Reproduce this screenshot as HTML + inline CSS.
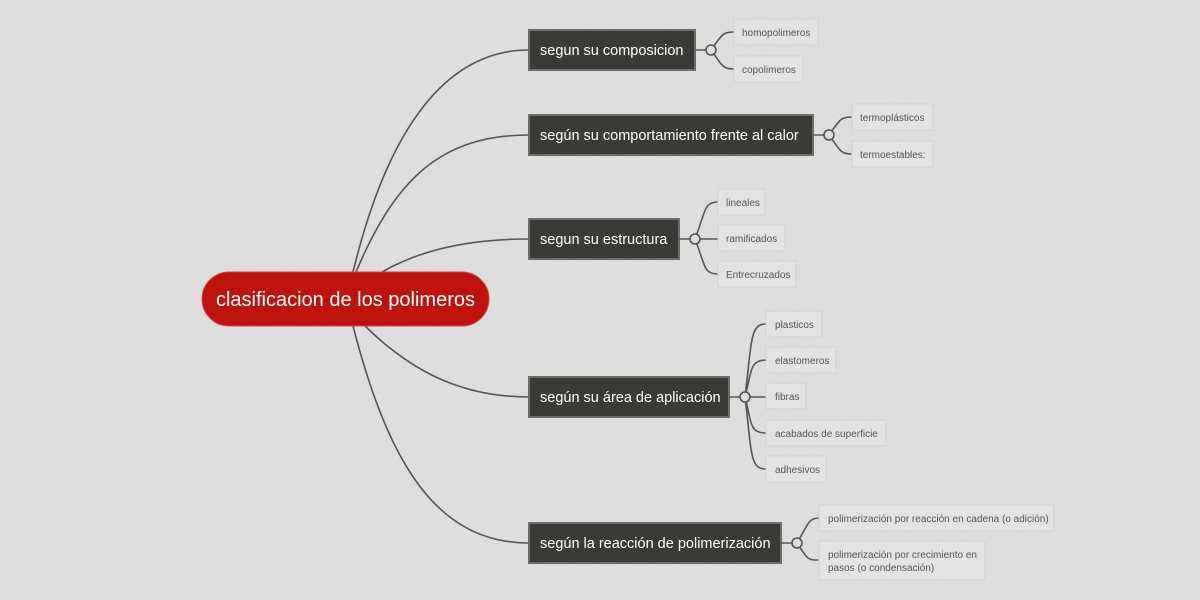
<!DOCTYPE html>
<html><head><meta charset="utf-8"><style>
html,body{margin:0;padding:0;width:1200px;height:600px;overflow:hidden;background:#dedede;}
svg{display:block;font-family:"Liberation Sans",sans-serif;}
.b{fill:#3a3a36;stroke:#6d6d69;stroke-width:2;}
.bt{fill:#fff;font-size:14.5px;}
.l{fill:#e3e3e3;stroke:#d3d3d3;stroke-width:1;}
.lt{fill:#555;font-size:10px;}
.c{fill:none;stroke:#555;stroke-width:1.6;}
.k{fill:#dedede;stroke:#555;stroke-width:1.6;}
</style></head><body>
<svg width="1200" height="600" viewBox="0 0 1200 600">
<defs><pattern id="p" width="8" height="8" patternUnits="userSpaceOnUse" patternTransform="rotate(-45)"><rect width="8" height="8" fill="#dedede"/><rect width="8" height="1" fill="#dbdbdb"/></pattern></defs>
<rect width="1200" height="600" fill="url(#p)"/>
<path class="c" d="M353,272 C385,140 440,50 529,50"/>
<path class="c" d="M356,272 C395,180 440,135 529,135"/>
<path class="c" d="M382,272 C420,250 470,239 529,239"/>
<path class="c" d="M365,326 C410,370 460,397 529,397"/>
<path class="c" d="M353,326 C390,470 440,543 529,543"/>
<rect x="202" y="272" width="287" height="54" rx="27" fill="#bd130b" stroke="#c84a45" stroke-width="1"/>
<text x="345.5" y="306" text-anchor="middle" fill="#fff" font-size="20">clasificacion de los polimeros</text>
<rect class="b" x="529" y="30" width="166" height="40"/><text class="bt" x="540" y="55">segun su composicion</text>
<rect class="b" x="529" y="115" width="284" height="40"/><text class="bt" x="540" y="140">según su comportamiento frente al calor</text>
<rect class="b" x="529" y="219" width="150" height="40"/><text class="bt" x="540" y="244">segun su estructura</text>
<rect class="b" x="529" y="377" width="200" height="40"/><text class="bt" x="540" y="402">según su área de aplicación</text>
<rect class="b" x="529" y="523" width="252" height="40"/><text class="bt" x="540" y="548">según la reacción de polimerización</text>
<path class="c" d="M695,50 H706 M711,50 C722,35 722,32 734,32 M711,50 C722,65 722,69 734,69"/>
<path class="c" d="M813,135 H824 M829,135 C840,120 840,117 852,117 M829,135 C840,150 840,154 852,154"/>
<path class="c" d="M679,239 H690 M695,239 C706,210 704,202 718,202 M695,239 H718 M695,239 C706,268 704,274 718,274"/>
<path class="c" d="M729,397 H740 M745,397 C752,340 750,324 766,324 M745,397 C752,370 750,360 766,360 M745,397 H766 M745,397 C752,425 750,433 766,433 M745,397 C752,455 750,469 766,469"/>
<path class="c" d="M781,543 H792 M797,543 C808,525 808,518 819,518 M797,543 C808,560 808,560 819,560"/>
<circle class="k" cx="711" cy="50" r="5"/>
<circle class="k" cx="829" cy="135" r="5"/>
<circle class="k" cx="695" cy="239" r="5"/>
<circle class="k" cx="745" cy="397" r="5"/>
<circle class="k" cx="797" cy="543" r="5"/>
<rect class="l" x="734" y="19" width="84" height="26"/><text class="lt" x="742" y="36">homopolimeros</text>
<rect class="l" x="734" y="56" width="69" height="26"/><text class="lt" x="742" y="73">copolimeros</text>
<rect class="l" x="852" y="104" width="81" height="26"/><text class="lt" x="860" y="121">termoplásticos</text>
<rect class="l" x="852" y="141" width="81" height="26"/><text class="lt" x="860" y="158">termoestables:</text>
<rect class="l" x="718" y="189" width="47" height="26"/><text class="lt" x="726" y="206">lineales</text>
<rect class="l" x="718" y="225" width="67" height="26"/><text class="lt" x="726" y="242">ramificados</text>
<rect class="l" x="718" y="261" width="78" height="26"/><text class="lt" x="726" y="278">Entrecruzados</text>
<rect class="l" x="766" y="311" width="56" height="26"/><text class="lt" x="775" y="328">plasticos</text>
<rect class="l" x="766" y="347" width="70" height="26"/><text class="lt" x="775" y="364">elastomeros</text>
<rect class="l" x="766" y="383" width="40" height="26"/><text class="lt" x="775" y="400">fibras</text>
<rect class="l" x="766" y="420" width="120" height="26"/><text class="lt" x="775" y="437">acabados de superficie</text>
<rect class="l" x="766" y="456" width="60" height="26"/><text class="lt" x="775" y="473">adhesivos</text>
<rect class="l" x="819" y="505" width="235" height="26"/><text class="lt" x="828" y="522">polimerización por reacción en cadena (o adición)</text>
<rect class="l" x="819" y="541" width="166" height="39"/><text class="lt" x="828" y="558">polimerización por crecimiento en</text><text class="lt" x="828" y="571">pasos (o condensación)</text>
</svg>
</body></html>
